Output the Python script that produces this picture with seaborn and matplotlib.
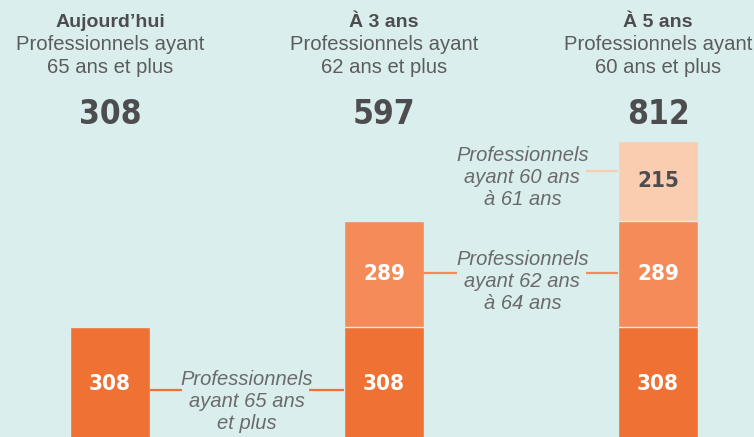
import numpy as np
import pandas as pd
import seaborn as sns
import matplotlib.pyplot as plt

# données
periodes = ['Aujourd’hui', 'À 3 ans', 'À 5 ans']
sous_titres = ['Professionnels ayant\n65 ans et plus',
               'Professionnels ayant\n62 ans et plus',
               'Professionnels ayant\n60 ans et plus']
seg_65_plus = [308, 308, 308]
seg_62_64 = [0, 289, 289]
seg_60_61 = [0, 0, 215]
etiquettes = ['Professionnels\nayant 65 ans\net plus',
              'Professionnels\nayant 62 ans\nà 64 ans',
              'Professionnels\nayant 60 ans\nà 61 ans']

FOND = '#daeeed'
couleurs = ['#f07134', '#f58b58', '#fbcdb0']
GRIS_FONCE = '#4d4d4f'
GRIS = '#5c5c5e'
GRIS_IT = '#6a6a6c'

sns.set_theme(style='white')
plt.rcParams['font.family'] = ['Liberation Sans', 'DejaVu Sans']

segments = np.array([seg_65_plus, seg_62_64, seg_60_61], dtype=float)
cumul = segments.cumsum(axis=0)
totaux = cumul[-1]

fig = plt.figure(figsize=(7.54, 4.37), dpi=100, facecolor=FOND)
ax = fig.add_axes([0, 0, 1, 1])
ax.set_facecolor(FOND)

LARGEUR = 0.292
# on dessine du haut vers le bas pour empiler
for niveau in [2, 1, 0]:
    df = pd.DataFrame({'periode': periodes, 'valeur': cumul[niveau]})
    sns.barplot(data=df, x='periode', y='valeur', color=couleurs[niveau],
                saturation=1, width=LARGEUR, errorbar=None,
                edgecolor=FOND, linewidth=1, ax=ax)

ax.set_xlim(-0.401, 2.350)
ax.set_ylim(10.8, 1195)
ax.axis('off')

# chiffres en police étroite
chiffres = dict(family='DejaVu Sans', fontstretch='condensed', fontweight='bold')

# en-têtes
for i in range(3):
    ax.text(i, 1135, periodes[i], ha='center', va='center', fontsize=14,
            fontweight='bold', color=GRIS_FONCE)
    ax.text(i, 1043, sous_titres[i], ha='center', va='center', fontsize=14.6,
            color=GRIS, linespacing=1.27)
    ax.text(i, 886, f'{int(totaux[i])}', ha='center', va='center', fontsize=24,
            color=GRIS_FONCE, **chiffres)

# valeurs dans les barres
for niveau in range(3):
    for i in range(3):
        v = segments[niveau][i]
        if v <= 0:
            continue
        milieu = cumul[niveau][i] - v / 2
        coul = 'white' if niveau < 2 else GRIS_FONCE
        ax.text(i, milieu, f'{int(v)}', ha='center', va='center', fontsize=16,
                color=coul, **chiffres)

# étiquettes reliées aux segments
demi = LARGEUR / 2
# (x texte, y texte, y trait, segments de trait)
annot = [
    (0.5, 108, 138, [(demi, 0.263), (0.726, 1 - demi)]),
    (1.505, 431, 455, [(1 + demi, 1.268), (1.737, 2 - demi)]),
    (1.505, 715, 732, [(1.737, 2 - demi)]),
]
for k, (xt, yt, yl, traits) in enumerate(annot):
    ax.text(xt, yt, etiquettes[k], ha='center', va='center', fontsize=14.5,
            style='italic', color=GRIS_IT, linespacing=1.2)
    for x0, x1 in traits:
        ax.plot([x0, x1], [yl, yl], color=couleurs[k], lw=1.6,
                solid_capstyle='butt', zorder=1)

fig.savefig('out.png', dpi=100, facecolor=FOND)
